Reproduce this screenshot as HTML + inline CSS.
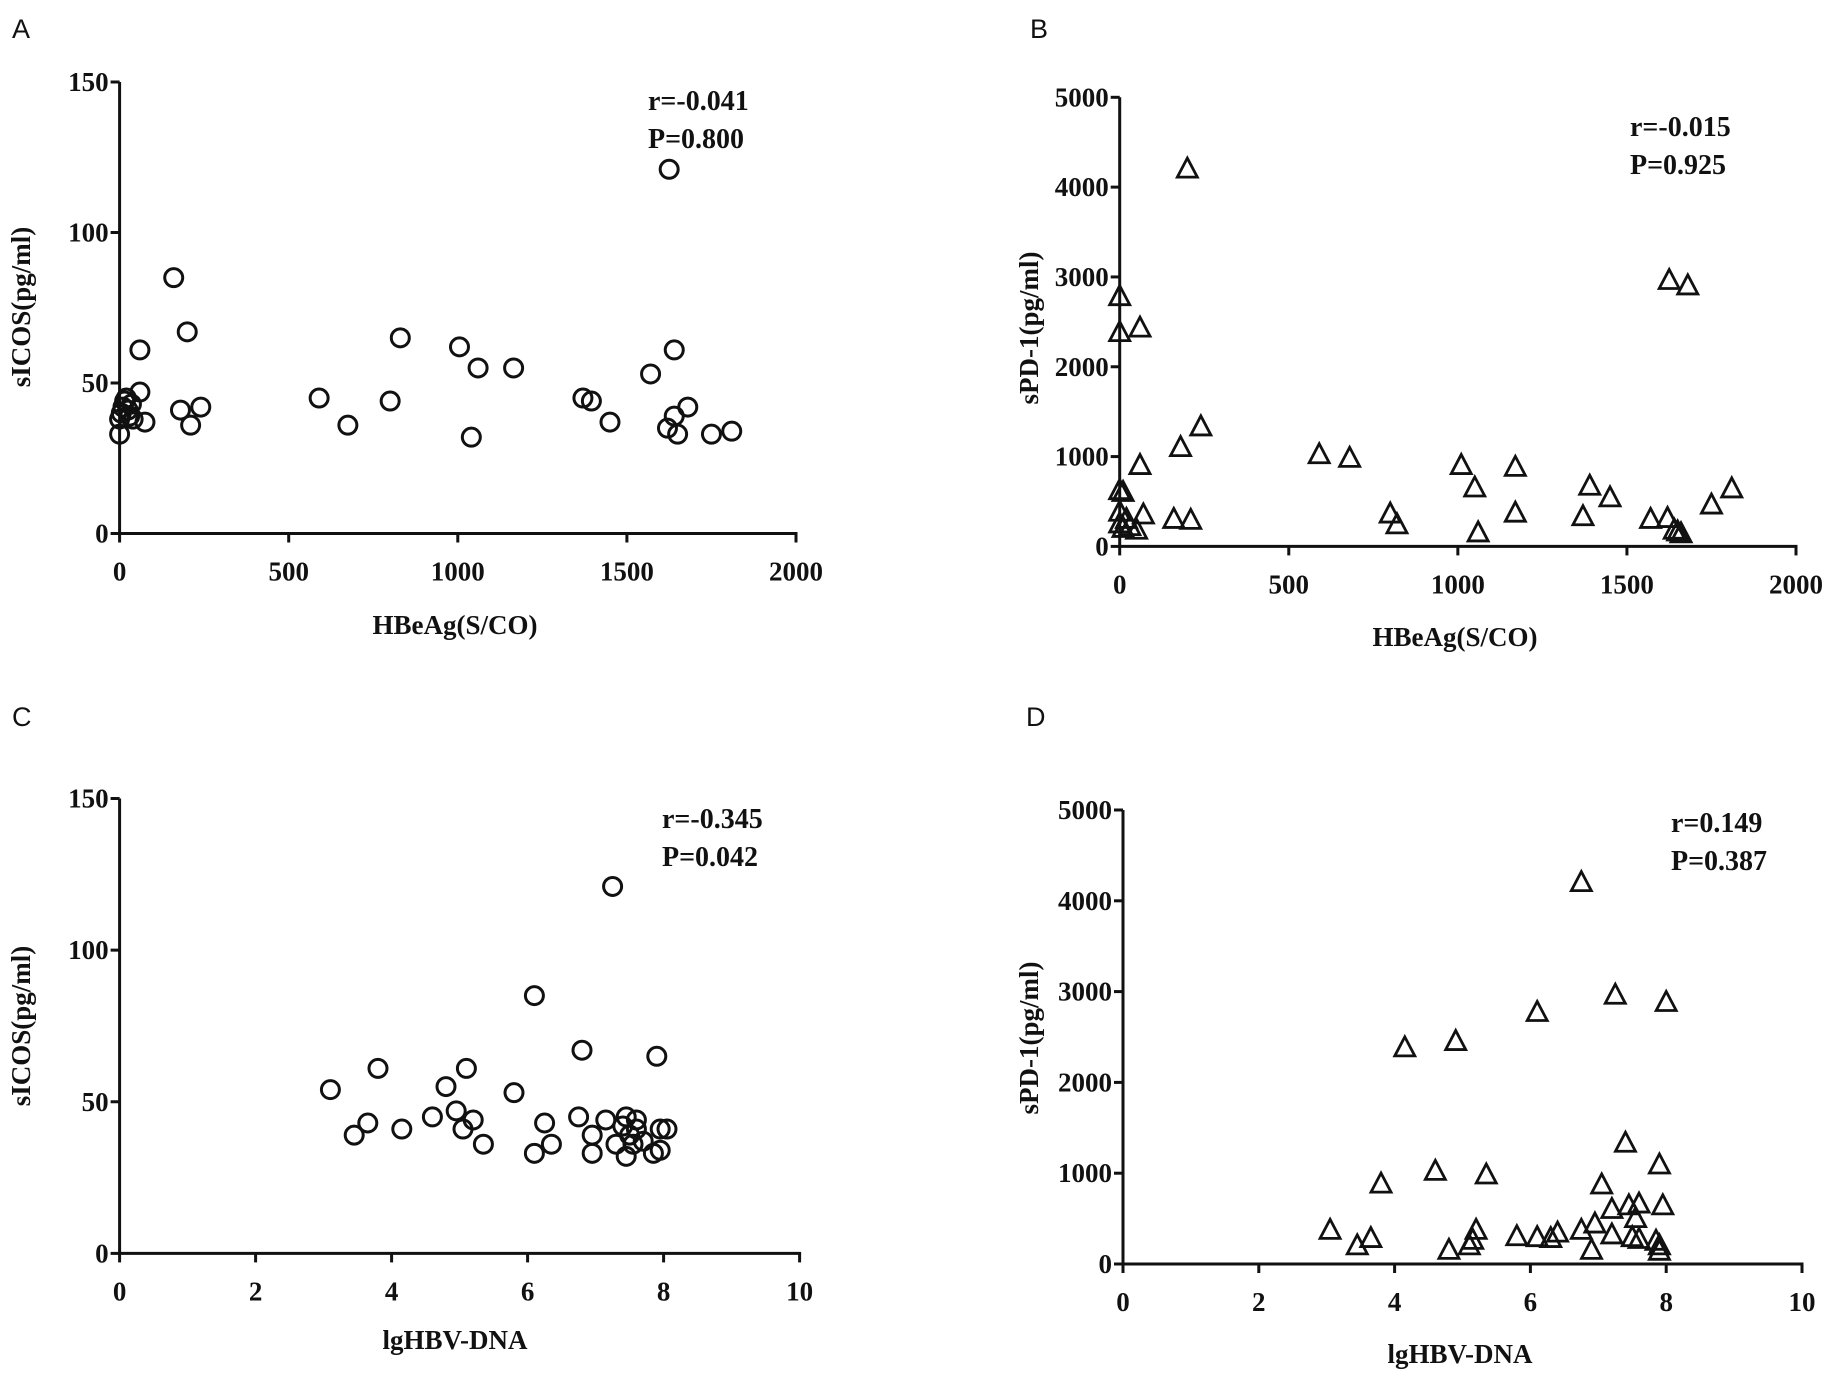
<!DOCTYPE html>
<html><head><meta charset="utf-8"><style>
html,body{margin:0;padding:0;background:#fff;}
svg{display:block;}
text{font-family:"Liberation Serif",serif;font-weight:bold;fill:#111;}
.lett{font-family:"Liberation Sans",sans-serif;font-weight:normal;}
</style></head><body>
<svg id="fig" width="1835" height="1380" viewBox="0 0 1835 1380"></svg>
<script>
const aX=[1625,160,200,60,60,830,1005,1060,1165,1640,1570,590,800,1370,1395,1450,675,1040,1620,1640,1650,1680,1750,1810,180,210,240,75,0,0,5,10,15,20,25,30,35,40];
const aY=[121,85,67,61,47,65,62,55,55,61,53,45,44,45,44,37,36,32,35,39,33,42,33,34,41,36,42,37,33,38,40,42,44,45,41,39,43,38];
const bX=[200,0,0,60,1625,1680,240,180,60,590,680,1010,1050,1170,1390,1450,1810,1750,1170,1370,800,820,1060,1570,1620,1640,1650,1660,0,10,70,160,210,0,0,10,20,50,30];
const bY=[4200,2780,2380,2430,2960,2900,1330,1100,900,1020,980,900,650,880,670,540,640,460,370,330,360,240,150,300,310,180,160,140,620,600,350,300,290,380,250,200,300,180,220];
const cX=[7.25,6.1,6.8,3.8,5.1,7.9,3.1,4.8,5.8,4.95,4.6,5.2,6.75,7.15,7.45,7.6,3.65,4.15,5.05,6.25,7.95,8.05,3.45,6.95,7.5,5.35,6.35,7.3,7.55,7.7,6.1,6.95,7.45,7.85,7.95,7.4,7.6];
const cY=[121,85,67,61,61,65,54,55,53,47,45,44,45,44,45,44,43,41,41,43,41,41,39,39,39,36,36,36,36,37,33,33,32,33,34,42,41];
const dX=[6.75,7.25,8,6.1,4.9,4.15,7.4,7.9,4.6,5.35,3.8,7.05,7.2,7.45,7.6,7.95,7.55,6.95,6.75,3.05,3.65,3.45,4.8,5.1,5.15,5.2,5.8,6.1,6.3,6.4,6.9,7.2,7.5,7.6,7.85,7.9,7.9];
const dY=[4200,2960,2880,2770,2450,2380,1330,1090,1020,980,880,870,600,640,660,640,500,440,370,370,280,200,150,200,260,370,300,290,280,340,150,320,290,270,250,200,140];
const ticksA=[0,500,1000,1500,2000], ticksDNA=[0,2,4,6,8,10];
const ticksICOS=[0,50,100,150], ticksPD=[0,1000,2000,3000,4000,5000];
const NS="http://www.w3.org/2000/svg";
const svg=document.getElementById('fig');
function mk(tag,attrs,parent){const e=document.createElementNS(NS,tag);for(const k in attrs)e.setAttribute(k,attrs[k]);(parent||svg).appendChild(e);return e;}
const panels=[
 {id:'a',letter:'A',lx:12,ly:38,x0:119.6,x1:796,y0:533.5,y1:82,xmax:2000,ymax:150,xt:ticksA,yt:ticksICOS,xs:aX,ys:aY,mark:'circle',xlab:'HBeAg(S/CO)',xlx:455,xly:634,ylab:'sICOS(pg/ml)',ylx:30,yly:307,r1:'r=-0.041',r2:'P=0.800',rx:648,ry:110},
 {id:'b',letter:'B',lx:1030,ly:38,x0:1119.7,x1:1796,y0:546.4,y1:97.3,xmax:2000,ymax:5000,xt:ticksA,yt:ticksPD,xs:bX,ys:bY,mark:'tri',xlab:'HBeAg(S/CO)',xlx:1455,xly:646,ylab:'sPD-1(pg/ml)',ylx:1038,yly:328,r1:'r=-0.015',r2:'P=0.925',rx:1630,ry:136},
 {id:'c',letter:'C',lx:12,ly:726,x0:119.6,x1:799.6,y0:1253.4,y1:798.5,xmax:10,ymax:150,xt:ticksDNA,yt:ticksICOS,xs:cX,ys:cY,mark:'circle',xlab:'lgHBV-DNA',xlx:455,xly:1349,ylab:'sICOS(pg/ml)',ylx:30,yly:1026,r1:'r=-0.345',r2:'P=0.042',rx:662,ry:828},
 {id:'d',letter:'D',lx:1026,ly:726,x0:1123,x1:1802,y0:1264,y1:810,xmax:10,ymax:5000,xt:ticksDNA,yt:ticksPD,xs:dX,ys:dY,mark:'tri',xlab:'lgHBV-DNA',xlx:1460,xly:1363,ylab:'sPD-1(pg/ml)',ylx:1038,yly:1038,r1:'r=0.149',r2:'P=0.387',rx:1671,ry:832}
];
panels.forEach(p=>{
 const g=mk('g',{});
 
 
 const sx=v=>p.x0+(p.x1-p.x0)*v/p.xmax;
 const sy=v=>p.y0+(p.y1-p.y0)*v/p.ymax;
 const L=mk('text',{x:p.lx,y:p.ly,'font-size':27,class:'lett'},g);L.textContent=p.letter;
 
 
 const xa=mk('line',{x1:p.x0,x2:p.x1+1.5,y1:p.y0,y2:p.y0,stroke:'#111','stroke-width':3},g);
 
 
 const ya=mk('line',{x1:p.x0,x2:p.x0,y1:p.y0+1.5,y2:p.y1,stroke:'#111','stroke-width':3},g);
 
 
 p.xt.forEach(t=>{
  mk('line',{x1:sx(t),x2:sx(t),y1:p.y0,y2:p.y0+9,stroke:'#111','stroke-width':3},g);
  const tx=mk('text',{x:sx(t),y:p.y0+47,'font-size':27,'text-anchor':'middle'},g);tx.textContent=t;
  
  
 });
 p.yt.forEach(t=>{
  mk('line',{x1:p.x0-9,x2:p.x0,y1:sy(t),y2:sy(t),stroke:'#111','stroke-width':3},g);
  const tx=mk('text',{x:p.x0-11,y:sy(t)+9,'font-size':27,'text-anchor':'end'},g);tx.textContent=t;
  
  
 });
 const xl=mk('text',{x:p.xlx,y:p.xly,'font-size':27,'text-anchor':'middle'},g);xl.textContent=p.xlab;
 
 
 const yl=mk('text',{x:0,y:0,'font-size':27,'text-anchor':'middle',transform:`translate(${p.ylx},${p.yly}) rotate(-90)`},g);yl.textContent=p.ylab;
 
 
 const r1=mk('text',{x:p.rx,y:p.ry,'font-size':28},g);r1.textContent=p.r1;
 
 
 const r2=mk('text',{x:p.rx,y:p.ry+38,'font-size':28},g);r2.textContent=p.r2;
 
 
 p.xs.forEach((v,i)=>{
  const cx=sx(v),cy=sy(p.ys[i]);let m;
  if(p.mark==='circle'){m=mk('circle',{cx:cx,cy:cy,r:9,fill:'none',stroke:'#111','stroke-width':3},g);}
  else{m=mk('polygon',{points:`${cx},${cy-11} ${cx-10},${cy+8} ${cx+10},${cy+8}`,fill:'none',stroke:'#111','stroke-width':2.8,'stroke-linejoin':'miter'},g);}
  
  
 });
});
</script>
</body></html>
